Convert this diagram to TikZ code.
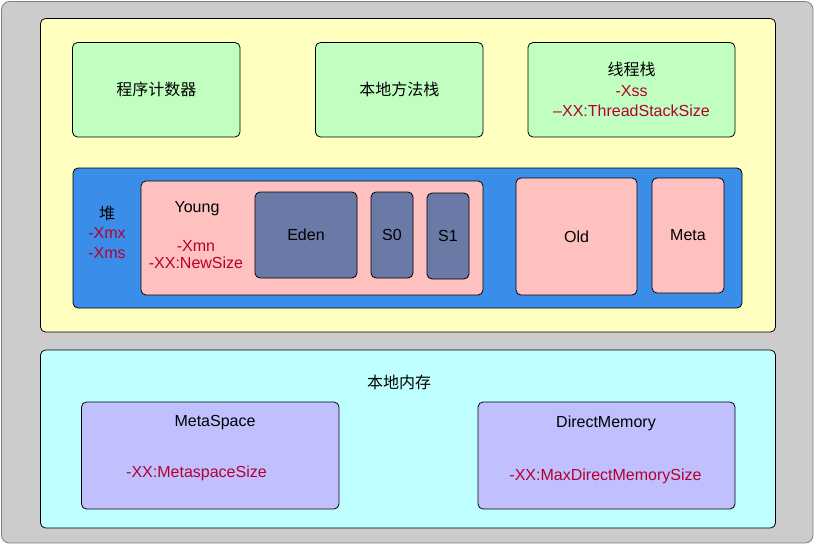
\documentclass[tikz,border=0pt]{standalone}
\usepackage{fontspec}
\setmainfont{Liberation Sans}
\newfontfamily\cjk{Noto Sans CJK SC}
\usepackage{xcolor}
\usepackage{tikz}
\usetikzlibrary{positioning}

\definecolor{outergray}{HTML}{CCCCCC}
\definecolor{jvmyellow}{HTML}{FFFFC0}
\definecolor{stackgreen}{HTML}{C0FFC0}
\definecolor{heapblue}{HTML}{3B8DEA}
\definecolor{genpink}{HTML}{FFC0C0}
\definecolor{spaceslate}{HTML}{6A79A6}
\definecolor{nativecyan}{HTML}{C0FFFF}
\definecolor{offheapviolet}{HTML}{C0C0FF}
\definecolor{flagred}{HTML}{B5002E}

\begin{document}
\begin{tikzpicture}[
  x=1pt, y=-1pt,
  font=\fontsize{16}{19}\selectfont,
  area/.style={draw, rounded corners=5pt, line width=0.8pt, inner sep=0pt},
  frame/.style={area, fill=jvmyellow},
  stackbox/.style={area, fill=stackgreen, minimum height=94.5pt, align=center},
  gen/.style={area, fill=genpink},
  space/.style={area, fill=spaceslate, minimum width=42pt, minimum height=86pt},
  memblock/.style={area, fill=offheapviolet, minimum height=107pt},
  flag/.style={text=flagred, align=center}
]
  \useasboundingbox (0,0) rectangle (815,544);

  % Background
  \node[area, rounded corners=8pt, fill=outergray, draw=gray, minimum width=811.5pt, minimum height=541.5pt] (bg) at (407.25,272.25) {};

  % JVM memory
  \node[frame, minimum width=735pt, minimum height=313.5pt] (jvm) at (408,175.25) {};

  % Stacks
  \node[stackbox, minimum width=167.5pt] (pc) at (156.25,89.75) {\cjk 程序计数器};
  \node[stackbox, minimum width=167.5pt] (native) at (399.25,89.75) {\cjk 本地方法栈};
  \node[stackbox, minimum width=207pt, font=\fontsize{16}{20.5}\selectfont] (thread) at (631.5,89.75)
    {{\cjk 线程栈}\\\textcolor{flagred}{-Xss}\\\textcolor{flagred}{–XX:ThreadStackSize}};

  % Heap
  \node[area, fill=heapblue, minimum width=669pt, minimum height=140pt] (heap) at (407.5,238) {};
  \node[align=center, font=\fontsize{16}{19.5}\selectfont] (heaplbl) at (107,232)
    {{\cjk 堆}\\\textcolor{flagred}{-Xmx}\\\textcolor{flagred}{-Xms}};

  \node[gen, minimum width=342pt, minimum height=114pt] (young) at (312,238) {};
  \node (younglbl) at (197,209) {Young};
  \node[flag, font=\fontsize{16}{17.6}\selectfont] (youngflag) at (196,254.5) {-Xmn\\-XX:NewSize};

  \node[space, minimum width=102pt] (eden) at (306,235) {Eden};
  \node[space] (s0) at (392,235) {S0};
  \node[space] (s1) at (448,236) {S1};

  \node[gen, minimum width=121pt, minimum height=117pt] (old) at (576.5,236.5) {Old};
  \node[gen, minimum width=72pt, minimum height=115pt] (meta) at (688,235.5) {Meta};

  % Native memory
  \node[area, fill=nativecyan, minimum width=735pt, minimum height=178pt] (nativemem) at (408,439) {};
  \node (nativelbl) at (399,382) {\cjk 本地内存};

  \node[memblock, minimum width=257.5pt] (metaspace) at (210.25,455.5) {};
  \node (metaspacelbl) at (215,423) {MetaSpace};
  \node[flag] (metaspaceflag) at (196.5,473) {-XX:MetaspaceSize};

  \node[memblock, minimum width=257pt] (direct) at (606.5,455.5) {};
  \node (directlbl) at (606,423) {DirectMemory};
  \node[flag] (directflag) at (605.5,476) {-XX:MaxDirectMemorySize};

\end{tikzpicture}
\end{document}
